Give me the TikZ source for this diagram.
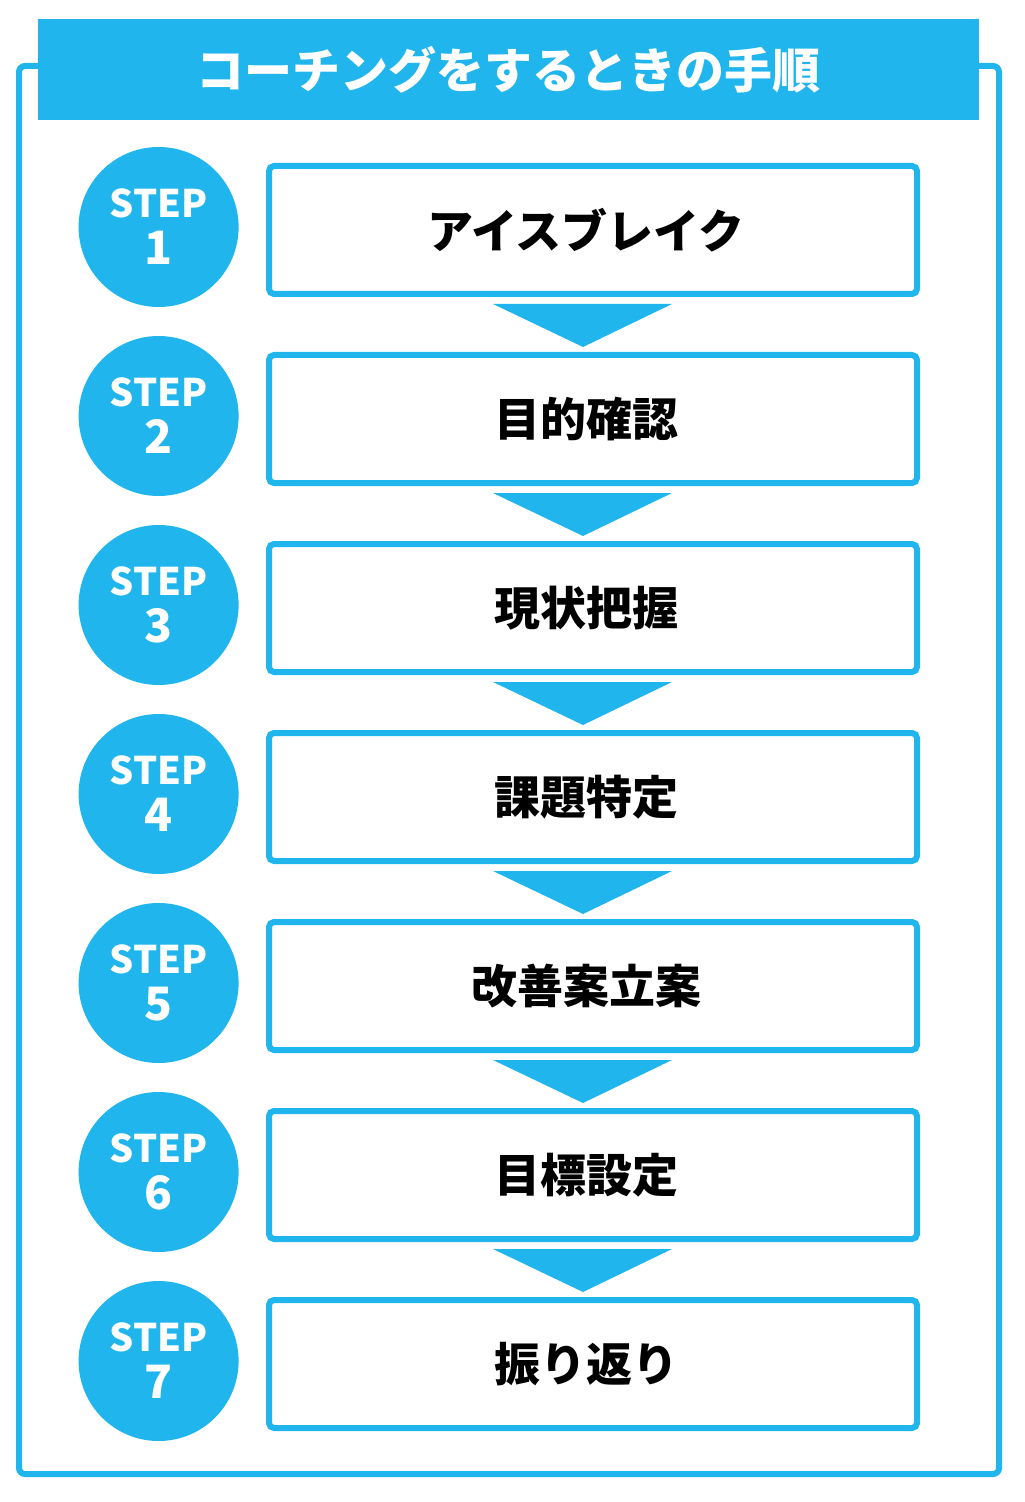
\documentclass[tikz,border=0pt]{standalone}
\usepackage{fontspec}
\setmainfont{Noto Sans CJK JP}
\usepackage{tikz}
\usetikzlibrary{positioning,calc}
\definecolor{stepblue}{RGB}{32,182,237}

\begin{document}
\begin{tikzpicture}[
  x=0.5pt, y=-0.5pt,
  node distance=27.5pt,
  stepbox/.style={rectangle, draw=stepblue, line width=3pt,
    rounded corners=2.5pt, fill=white, minimum width=324pt,
    minimum height=64pt, font=\fontsize{23}{28}\selectfont\bfseries,
    execute at begin node={\hspace*{-7pt}}},
  stepnum/.style={circle, fill=stepblue, minimum size=80pt,
    inner sep=0pt, text=white, align=center,
    font=\fontsize{19}{23.5}\selectfont\bfseries},
  down/.style={fill=stepblue}
]
  \useasboundingbox (0,0) rectangle (1024,1502);

  % outer frame and title bar
  \draw[stepblue, line width=3pt, rounded corners=3pt] (19,66) rectangle (999,1474);
  \node[fill=stepblue, minimum width=470.5pt, minimum height=50.5pt,
    inner sep=0pt, anchor=north west, text=white,
    font=\fontsize{24}{28}\selectfont\bfseries] (title) at (38,19)
    {コーチングをするときの手順};

  \node[stepbox] (b1) at (593,230) {アイスブレイク};
  \node[stepbox, below=of b1] (b2) {目的確認};
  \node[stepbox, below=of b2] (b3) {現状把握};
  \node[stepbox, below=of b3] (b4) {課題特定};
  \node[stepbox, below=of b4] (b5) {改善案立案};
  \node[stepbox, below=of b5] (b6) {目標設定};
  \node[stepbox, below=of b6] (b7) {振り返り};

  \node[stepnum, left=13.5pt of b1, yshift=1.5pt] (s1) {STEP\\{\fontsize{23}{23.5}\selectfont 1}};
  \node[stepnum, left=13.5pt of b2, yshift=1.5pt] (s2) {STEP\\{\fontsize{23}{23.5}\selectfont 2}};
  \node[stepnum, left=13.5pt of b3, yshift=1.5pt] (s3) {STEP\\{\fontsize{23}{23.5}\selectfont 3}};
  \node[stepnum, left=13.5pt of b4, yshift=1.5pt] (s4) {STEP\\{\fontsize{23}{23.5}\selectfont 4}};
  \node[stepnum, left=13.5pt of b5, yshift=1.5pt] (s5) {STEP\\{\fontsize{23}{23.5}\selectfont 5}};
  \node[stepnum, left=13.5pt of b6, yshift=1.5pt] (s6) {STEP\\{\fontsize{23}{23.5}\selectfont 6}};
  \node[stepnum, left=13.5pt of b7, yshift=1.5pt] (s7) {STEP\\{\fontsize{23}{23.5}\selectfont 7}};

  % down arrows between the boxes
  \fill[down] ([xshift=-50pt,yshift=-3.5pt]b1.south) -- ([xshift=39.5pt,yshift=-3.5pt]b1.south) -- ([xshift=-5pt,yshift=2.5pt]b2.north) -- cycle;
  \fill[down] ([xshift=-50pt,yshift=-3.5pt]b2.south) -- ([xshift=39.5pt,yshift=-3.5pt]b2.south) -- ([xshift=-5pt,yshift=2.5pt]b3.north) -- cycle;
  \fill[down] ([xshift=-50pt,yshift=-3.5pt]b3.south) -- ([xshift=39.5pt,yshift=-3.5pt]b3.south) -- ([xshift=-5pt,yshift=2.5pt]b4.north) -- cycle;
  \fill[down] ([xshift=-50pt,yshift=-3.5pt]b4.south) -- ([xshift=39.5pt,yshift=-3.5pt]b4.south) -- ([xshift=-5pt,yshift=2.5pt]b5.north) -- cycle;
  \fill[down] ([xshift=-50pt,yshift=-3.5pt]b5.south) -- ([xshift=39.5pt,yshift=-3.5pt]b5.south) -- ([xshift=-5pt,yshift=2.5pt]b6.north) -- cycle;
  \fill[down] ([xshift=-50pt,yshift=-3.5pt]b6.south) -- ([xshift=39.5pt,yshift=-3.5pt]b6.south) -- ([xshift=-5pt,yshift=2.5pt]b7.north) -- cycle;
\end{tikzpicture}
\end{document}
